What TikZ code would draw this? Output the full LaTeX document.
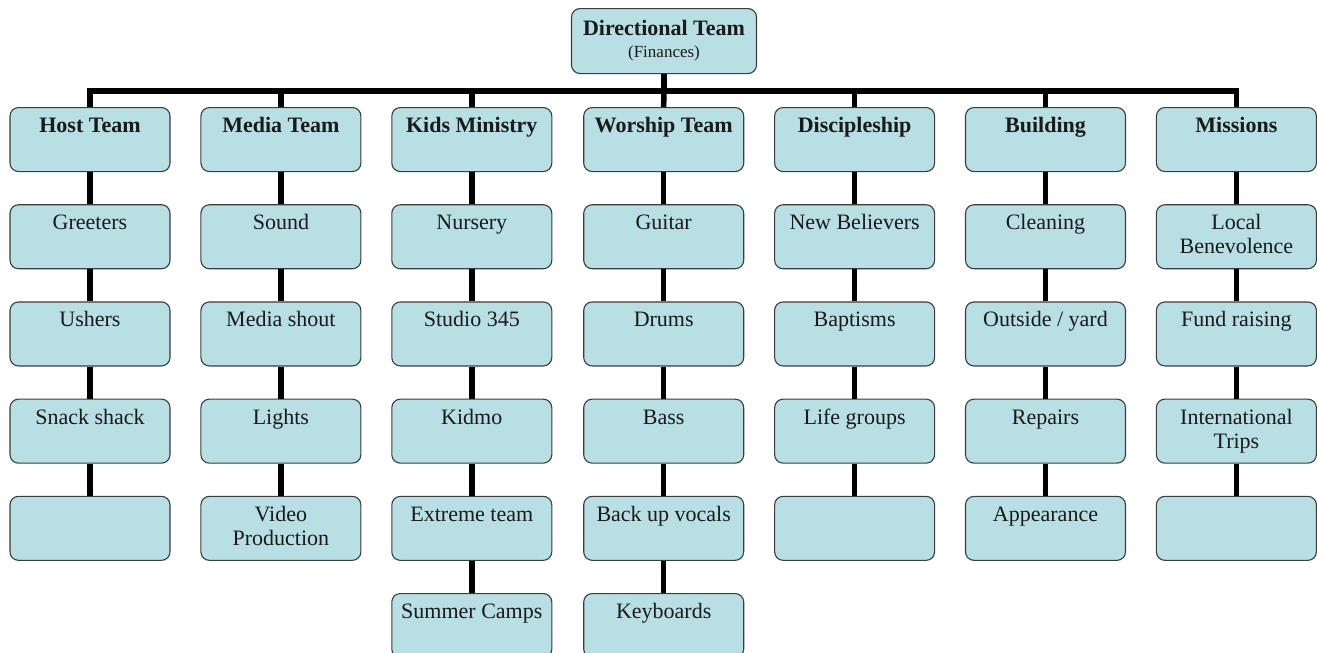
\documentclass[tikz,border=0pt]{standalone}
\usepackage{fontspec}
\setmainfont{Liberation Serif}
\definecolor{paleblue}{HTML}{B8DFE4}
\definecolor{rim}{HTML}{3C3C3C}
\definecolor{ink}{HTML}{1A1A1A}
\usepackage{tikz}
\usetikzlibrary{positioning,calc}
\newcommand{\cell}[1]{\parbox[t][64pt][t]{156pt}{\centering\rule{0pt}{25pt}#1}}
\tikzset{
  unit/.style={draw=rim,fill=paleblue,line width=1.1pt,rounded corners=8.5pt,
    minimum width=160pt,minimum height=64pt,inner sep=0pt,anchor=north,text=ink,
    font=\fontsize{22}{24}\selectfont},
  chief/.style={unit,minimum width=185pt,minimum height=65pt,align=center},
  link/.style={line width=5.5pt,black}
}

\begin{document}
\begin{tikzpicture}[x=1pt,y=-1pt]
    \useasboundingbox (0,0) rectangle (1317,653);
    \clip (0,0) rectangle (1317,653);
    % top of the chart
    \node[chief] (dir) at (664,8) {\rule{0pt}{12pt}\textbf{Directional Team}\\[-2pt]{\fontsize{17}{20}\selectfont (Finances)}};
    % host team
    \node[unit] (host) at (90,107) {\cell{\textbf{Host Team}}};
    \node[unit] (greeters) at (90,204.2) {\cell{Greeters}};
    \node[unit] (ushers) at (90,301.4) {\cell{Ushers}};
    \node[unit] (snack) at (90,398.6) {\cell{Snack shack}};
    \node[unit] (hostnone) at (90,495.8) {\cell{}};
    % media team
    \node[unit] (media) at (280.9,107) {\cell{\textbf{Media Team}}};
    \node[unit] (sound) at (280.9,204.2) {\cell{Sound}};
    \node[unit] (shout) at (280.9,301.4) {\cell{Media shout}};
    \node[unit] (lights) at (280.9,398.6) {\cell{Lights}};
    \node[unit] (video) at (280.9,495.8) {\cell{Video\\Production}};
    % kids ministry
    \node[unit] (kids) at (471.8,107) {\cell{\textbf{Kids Ministry}}};
    \node[unit] (nursery) at (471.8,204.2) {\cell{Nursery}};
    \node[unit] (studio) at (471.8,301.4) {\cell{Studio 345}};
    \node[unit] (kidmo) at (471.8,398.6) {\cell{Kidmo}};
    \node[unit] (extreme) at (471.8,495.8) {\cell{Extreme team}};
    \node[unit] (camps) at (471.8,593) {\cell{Summer Camps}};
    % worship team
    \node[unit] (worship) at (663.7,107) {\cell{\textbf{Worship Team}}};
    \node[unit] (guitar) at (663.7,204.2) {\cell{Guitar}};
    \node[unit] (drums) at (663.7,301.4) {\cell{Drums}};
    \node[unit] (bass) at (663.7,398.6) {\cell{Bass}};
    \node[unit] (vocals) at (663.7,495.8) {\cell{Back up vocals}};
    \node[unit] (keys) at (663.7,593) {\cell{Keyboards}};
    % discipleship
    \node[unit] (discip) at (854.6,107) {\cell{\textbf{Discipleship}}};
    \node[unit] (believers) at (854.6,204.2) {\cell{New Believers}};
    \node[unit] (baptisms) at (854.6,301.4) {\cell{Baptisms}};
    \node[unit] (lifegrp) at (854.6,398.6) {\cell{Life groups}};
    \node[unit] (discnone) at (854.6,495.8) {\cell{}};
    % building
    \node[unit] (building) at (1045.5,107) {\cell{\textbf{Building}}};
    \node[unit] (cleaning) at (1045.5,204.2) {\cell{Cleaning}};
    \node[unit] (outside) at (1045.5,301.4) {\cell{Outside / yard}};
    \node[unit] (repairs) at (1045.5,398.6) {\cell{Repairs}};
    \node[unit] (appear) at (1045.5,495.8) {\cell{Appearance}};
    % missions
    \node[unit] (missions) at (1236.4,107) {\cell{\textbf{Missions}}};
    \node[unit] (benev) at (1236.4,204.2) {\cell{Local\\Benevolence}};
    \node[unit] (fund) at (1236.4,301.4) {\cell{Fund raising}};
    \node[unit] (trips) at (1236.4,398.6) {\cell{International\\Trips}};
    \node[unit] (missnone) at (1236.4,495.8) {\cell{}};
    % bar under the top box
    \draw[link] (dir.south) -- ++(0,17) -| (host.north);
    \draw[link] (dir.south) -- ++(0,17) -| (media.north);
    \draw[link] (dir.south) -- ++(0,17) -| (kids.north);
    \draw[link] (dir.south) -- (worship.north);
    \draw[link] (dir.south) -- ++(0,17) -| (discip.north);
    \draw[link] (dir.south) -- ++(0,17) -| (building.north);
    \draw[link] (dir.south) -- ++(0,17) -| (missions.north);
    % columns
    \draw[link] (host) -- (greeters) -- (ushers) -- (snack) -- (hostnone);
    \draw[link] (media) -- (sound) -- (shout) -- (lights) -- (video);
    \draw[link] (kids) -- (nursery) -- (studio) -- (kidmo) -- (extreme) -- (camps);
    \draw[link] (worship) -- (guitar) -- (drums) -- (bass) -- (vocals) -- (keys);
    \draw[link] (discip) -- (believers) -- (baptisms) -- (lifegrp) -- (discnone);
    \draw[link] (building) -- (cleaning) -- (outside) -- (repairs) -- (appear);
    \draw[link] (missions) -- (benev) -- (fund) -- (trips) -- (missnone);
\end{tikzpicture}
\end{document}
